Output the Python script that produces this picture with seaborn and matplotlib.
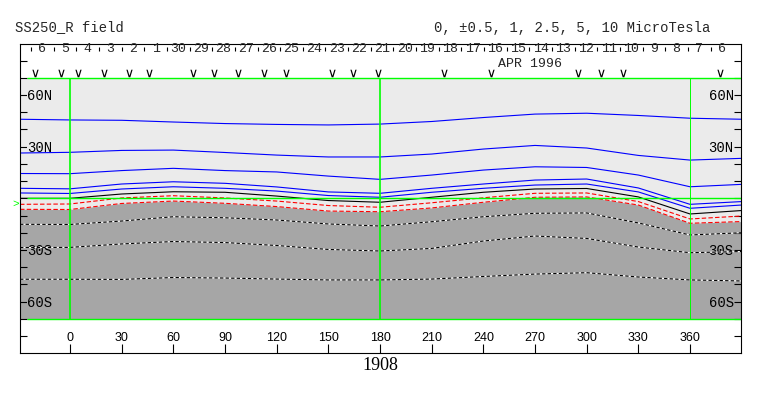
import numpy as np
import matplotlib
matplotlib.use("Agg")
import matplotlib.pyplot as plt
import seaborn as sns
from matplotlib import font_manager

lon = [-29, 0, 30, 60, 90, 120, 150, 180, 210, 240, 270, 300, 330, 360, 390]

# latitude (deg) of each field contour, microtesla
lat_p10 = [45.9, 45.5, 45.3, 44.3, 43.4, 42.9, 42.6, 43.1, 44.6, 46.9, 48.9, 49.4, 48.1, 46.5, 45.9]
lat_p5 = [26.3, 26.7, 27.8, 28.0, 26.6, 25.1, 24.0, 24.0, 25.7, 28.6, 30.7, 29.2, 24.9, 22.2, 23.2]
lat_p2_5 = [14.4, 14.3, 16.1, 17.4, 16.1, 15.3, 12.9, 11.0, 13.5, 16.4, 18.3, 17.9, 13.5, 6.7, 8.1]
lat_p1 = [5.8, 5.5, 8.3, 9.6, 8.7, 6.6, 3.7, 2.9, 5.8, 8.3, 10.6, 11.2, 6.0, -3.5, -1.9]
lat_p0_5 = [3.1, 2.8, 5.4, 6.7, 5.8, 4.2, 1.6, 0.6, 3.5, 5.8, 7.7, 8.3, 3.7, -5.8, -3.9]
lat_zero = [0.0, 0.0, 2.5, 3.8, 3.5, 1.3, -1.3, -2.3, 0.6, 3.5, 5.4, 5.7, 0.8, -9.1, -7.1]
lat_m0_5 = [-3.5, -3.3, 0.2, 1.5, 0.2, -1.6, -4.2, -5.2, -2.6, 0.3, 2.9, 3.1, -1.9, -12.0, -10.3]
lat_m1 = [-6.4, -6.5, -3.0, -1.6, -2.9, -4.8, -7.4, -7.8, -5.6, -2.3, 0.6, 0.8, -3.9, -14.5, -13.5]
lat_m2_5 = [-15.1, -15.2, -13.2, -10.7, -11.3, -12.6, -14.9, -16.1, -13.6, -10.7, -8.7, -8.5, -14.3, -21.3, -20.0]
lat_m5 = [-28.6, -28.5, -26.5, -25.1, -25.7, -27.4, -29.7, -30.6, -29.1, -24.8, -21.9, -23.3, -28.3, -31.6, -30.9]
lat_m10 = [-47.0, -47.0, -47.1, -46.0, -46.3, -46.9, -47.4, -47.4, -46.9, -45.4, -44.0, -43.2, -45.7, -47.4, -48.0]

# observation markers along the top (longitude)
obs_lon = [-20.3, -5.2, 4.6, 19.7, 34.3, 45.9, 71.4, 83.6, 97.6, 112.7, 125.5,
           152.1, 164.3, 178.8, 217.2, 244.5, 295.0, 308.3, 321.1, 377.4]
b0_lat = -3.4

# day-of-month labels across the top (time runs right to left)
day_labels = ["6", "5", "4", "3", "2", "1"] + [str(d) for d in range(30, 5, -1)]
day0_lon = -22.6
deg_per_day = 13.15

lon_ticks = list(range(0, 361, 30))
lat_ticks = list(range(-80, 81, 10))
lat_names = {60: "60N", 30: "30N", -30: "30S", -60: "60S"}

LIGHT = "#ebebeb"
DARK = "#a6a6a6"
GREEN = "#00ff00"

sns.set_theme(style="white")
plt.rcParams["font.family"] = ["Liberation Mono", "DejaVu Sans"]
names = {f.name for f in font_manager.fontManager.ttflist}
narrow = "Liberation Sans Narrow" if "Liberation Sans Narrow" in names else "Liberation Sans"

W, H = 763, 396
fig = plt.figure(figsize=(W / 100, H / 100), dpi=100)
ax = fig.add_axes([20 / W, 1 - 353 / H, 721 / W, 309 / H])
ax.set_xlim(-29.03, 389.6)
ax.set_ylim(-89.83, 89.6)

# background
ax.axhspan(-70, 70, color=LIGHT, lw=0, zorder=0)
ax.fill_between(lon, lat_m1, -70, color=DARK, lw=0, zorder=0.5)

lw = 0.8
for lat in [lat_p10, lat_p5, lat_p2_5, lat_p1, lat_p0_5]:
    sns.lineplot(x=lon, y=lat, ax=ax, color="#0000ff", lw=lw, sort=False, errorbar=None)
sns.lineplot(x=lon, y=lat_zero, ax=ax, color="black", lw=lw, sort=False, errorbar=None)
for lat in [lat_m0_5, lat_m1]:
    sns.lineplot(x=lon, y=lat, ax=ax, color="#ff0000", lw=lw, sort=False,
                 errorbar=None, linestyle=(0, (4, 2)))
for lat in [lat_m2_5, lat_m5, lat_m10]:
    sns.lineplot(x=lon, y=lat, ax=ax, color="white", lw=lw, sort=False, errorbar=None)
    sns.lineplot(x=lon, y=lat, ax=ax, color="black", lw=lw, sort=False,
                 errorbar=None, linestyle=(0, (3, 2)))

# grid lines in green
ax.hlines([70, 0, -70], -25, 389.6, color=GREEN, lw=1.0, zorder=3)
ax.vlines([0, 180], -70, 70, color=GREEN, lw=1.2, zorder=3)
ax.vlines([360], -70, 70, color=GREEN, lw=0.7, zorder=3)

# header band: days, month, observation markers
edges = [day0_lon + k * deg_per_day for k in range(len(day_labels) + 1)]
ax.vlines(edges[:-1], 85.4, 88.0, color="black", lw=0.8)
for k, lab in enumerate(day_labels):
    ax.text(edges[k] + deg_per_day / 2, 86.6, lab, ha="center", va="center", fontsize=9.5)
ax.text(267, 78.2, "APR 1996", ha="center", va="center", fontsize=9.5)
sns.scatterplot(x=obs_lon, y=[72.6] * len(obs_lon), ax=ax, marker=r"$\vee$",
                s=30, color="black", linewidth=0)
ax.text(-29.6, b0_lat, ">", ha="right", va="center", color=GREEN, fontsize=8, clip_on=False)

# axes / ticks
for s in ax.spines.values():
    s.set_color("black")
    s.set_linewidth(0.8)

ax.set_xticks(lon_ticks)
ax.set_xticklabels([str(v) for v in lon_ticks], fontfamily=narrow, fontsize=9)
ax.tick_params(axis="x", direction="in", length=6.5, width=0.8, pad=-10.8,
               bottom=True, top=False, colors="black")
for t in ax.xaxis.get_major_ticks():
    t.label1.set_verticalalignment("center")

ax.set_yticks(lat_ticks)
ax.set_yticklabels([lat_names.get(v, "") for v in lat_ticks], fontsize=10)
ax.tick_params(axis="y", direction="in", length=5, width=0.8, pad=-5.2,
               left=True, right=True, labelleft=True, labelright=True, colors="black")
for t, v in zip(ax.yaxis.get_major_ticks(), lat_ticks):
    t.label1.set_horizontalalignment("left")
    t.label2.set_horizontalalignment("right")
    bg = LIGHT if v > 0 else DARK
    t.label1.set_bbox(dict(facecolor=bg, edgecolor="none", pad=0))
    t.label2.set_bbox(dict(facecolor=bg, edgecolor="none", pad=0))

ax.set_xlabel("1908", fontfamily="Liberation Serif", fontsize=13, labelpad=3, color="black")
ax.set_ylabel("")

fig.text(15 / W, 1 - 27 / H, "SS250_R field", ha="left", va="center", fontsize=10)
fig.text(710 / W, 1 - 28 / H, "0, \u00b10.5, 1, 2.5, 5, 10 MicroTesla",
         ha="right", va="center", fontsize=10)

fig.savefig("out.png", dpi=100)
